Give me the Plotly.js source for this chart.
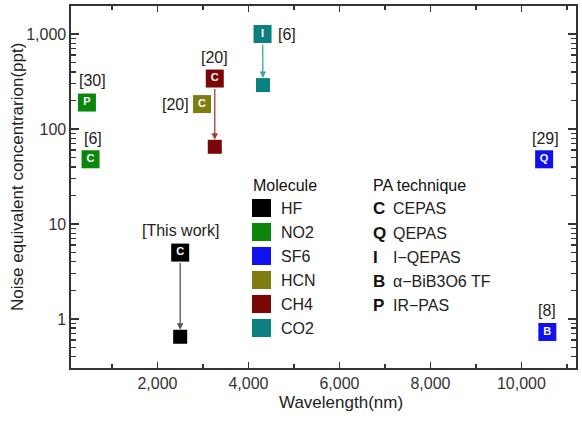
<!DOCTYPE html>
<html>
<head>
<meta charset="utf-8">
<script src="https://cdn.plot.ly/plotly-3.0.1.min.js"></script>
<style>html,body{margin:0;padding:0;background:#fff;}#chart{width:582px;height:421px;}</style>
</head>
<body>
<div id="chart"></div>
<script>
// ---- data ----
var molecules = ['HF', 'NO2', 'NO2', 'CH4', 'HCN', 'CO2', 'SF6', 'SF6'];
var techniques = ['C', 'P', 'C', 'C', 'C', 'I', 'Q', 'B'];
var wavelengths = [2500, 450, 530, 3260, 2980, 4310, 10500, 10570];
var necValues = [5, 190, 48, 340, 183, 1000, 48, 0.73];
var references = ['[This work]', '[30]', '[6]', '[20]', '[20]', '[6]', '[29]', '[8]'];

// improved (arrow end) values
var improvedMolecules = ['HF', 'CH4', 'CO2'];
var improvedFrom = [0, 3, 5];
var improvedWavelengths = [2500, 3260, 4320];
var improvedValues = [0.65, 65, 290];

var legendMolecules = ['HF', 'NO2', 'SF6', 'HCN', 'CH4', 'CO2'];
var legendLetters = ['C', 'Q', 'I', 'B', 'P'];
var legendTechniques = ['CEPAS', 'QEPAS', 'I\u2212QEPAS', '\u03b1\u2212BiB3O6 TF', 'IR\u2212PAS'];

var xTitle = 'Wavelength(nm)';
var yTitle = 'Noise equivalent concentrarion(ppt)';

// ---- styles ----
var colors = {HF: '#000000', NO2: '#0b850b', SF6: '#1010f0', HCN: '#7d7d10', CH4: '#7a0606', CO2: '#0c8080'};
var arrowColors = {HF: '#555555', CH4: '#a03c3c', CO2: '#3aa6a6'};
var FONT = 'Liberation Sans, Arial, sans-serif';

// pixel geometry of plot area
var W = 582, H = 421, L = 71, R = 6, T = 6, B = 53;
var pw = W - L - R, ph = H - T - B;
function px(x) { return (x - L) / pw; }
function py(y) { return (H - B - y) / ph; }

var traces = [];
// labelled markers
traces.push({
  type: 'scatter', mode: 'markers+text',
  x: wavelengths, y: necValues,
  text: techniques, textposition: 'middle center',
  textfont: {family: FONT, size: 11, color: '#ffffff', weight: 700},
  marker: {symbol: 'square', size: 18, color: molecules.map(function (m) { return colors[m]; }), line: {width: 0}},
  hoverinfo: 'x+y', showlegend: false, cliponaxis: false
});
// improved end markers
traces.push({
  type: 'scatter', mode: 'markers',
  x: improvedWavelengths, y: improvedValues,
  marker: {symbol: 'square', size: 14, color: improvedMolecules.map(function (m) { return colors[m]; }), line: {width: 0}},
  hoverinfo: 'x+y', showlegend: false
});

var annotations = [];
// reference labels
var refShift = [[0, 22], [6, 22], [2, 21], [0, 21], [-27, 0], [24, 0], [1, 21], [0, 21]];
for (var i = 0; i < references.length; i++) {
  annotations.push({
    x: wavelengths[i], y: Math.log10(necValues[i]), xref: 'x', yref: 'y',
    text: references[i], showarrow: false,
    xshift: refShift[i][0], yshift: refShift[i][1],
    font: {family: FONT, size: 16, color: '#222222'}
  });
}
// arrows
for (var j = 0; j < improvedMolecules.length; j++) {
  var k = improvedFrom[j];
  annotations.push({
    x: improvedWavelengths[j], y: Math.log10(improvedValues[j]), xref: 'x', yref: 'y',
    ax: wavelengths[k], ay: Math.log10(necValues[k]), axref: 'x', ayref: 'y',
    text: '', showarrow: true, arrowhead: 2, arrowsize: 1, arrowwidth: 1.3,
    arrowcolor: arrowColors[improvedMolecules[j]], standoff: 7, startstandoff: 9
  });
}

// axis titles
annotations.push({x: px(341), y: py(402), xref: 'paper', yref: 'paper', xanchor: 'center', yanchor: 'middle',
  text: xTitle, showarrow: false, font: {family: FONT, size: 17, color: '#222222'}});
annotations.push({x: px(18), y: py(177), xref: 'paper', yref: 'paper', xanchor: 'center', yanchor: 'middle',
  text: yTitle, textangle: -90, showarrow: false, font: {family: FONT, size: 17, color: '#222222'}});

var shapes = [];
// legend: molecule
annotations.push({x: px(251), y: py(186), xref: 'paper', yref: 'paper', xanchor: 'left', yanchor: 'middle',
  text: 'Molecule', showarrow: false, font: {family: FONT, size: 16, color: '#111111'}});
for (var m = 0; m < legendMolecules.length; m++) {
  var cy = 208 + m * 24;
  shapes.push({type: 'rect', xref: 'paper', yref: 'paper', x0: px(252), x1: px(271), y0: py(cy + 9), y1: py(cy - 9),
    fillcolor: colors[legendMolecules[m]], line: {width: 0}});
  annotations.push({x: px(279), y: py(cy), xref: 'paper', yref: 'paper', xanchor: 'left', yanchor: 'middle',
    text: legendMolecules[m], showarrow: false, font: {family: FONT, size: 16, color: '#222222'}});
}
// legend: technique
annotations.push({x: px(371), y: py(186), xref: 'paper', yref: 'paper', xanchor: 'left', yanchor: 'middle',
  text: 'PA technique', showarrow: false, font: {family: FONT, size: 16, color: '#111111'}});
for (var n = 0; n < legendLetters.length; n++) {
  var ty = 209 + n * 24;
  annotations.push({x: px(371), y: py(ty), xref: 'paper', yref: 'paper', xanchor: 'left', yanchor: 'middle',
    text: '<b>' + legendLetters[n] + '</b>', showarrow: false, font: {family: FONT, size: 17, color: '#111111'}});
  annotations.push({x: px(391), y: py(ty), xref: 'paper', yref: 'paper', xanchor: 'left', yanchor: 'middle',
    text: legendTechniques[n], showarrow: false, font: {family: FONT, size: 16, color: '#222222'}});
}

var axisCommon = {
  showline: true, linecolor: '#333333', linewidth: 1.6, mirror: 'ticks',
  ticks: 'inside', tickcolor: '#333333', tickwidth: 1.5,
  showgrid: false, zeroline: false,
  tickfont: {family: FONT, size: 16, color: '#333333'}
};

var layout = {
  width: W, height: H,
  margin: {l: L, r: R, t: T, b: B},
  paper_bgcolor: '#ffffff', plot_bgcolor: '#ffffff',
  showlegend: false,
  xaxis: Object.assign({}, axisCommon, {
    range: [100, 11200], tickmode: 'linear', tick0: 0, dtick: 2000, tickformat: ',', ticklen: 6,
    minor: {dtick: 1000, tick0: 0, ticks: 'inside', ticklen: 4, tickcolor: '#333333', tickwidth: 1.4, showgrid: false}
  }),
  yaxis: Object.assign({}, axisCommon, {
    type: 'log', range: [-0.516, 3.295], tickmode: 'linear', tick0: 0, dtick: 1, tickformat: ',', ticklen: 8,
    minor: {ticks: 'inside', ticklen: 5, tickcolor: '#333333', tickwidth: 1.4, showgrid: false}
  }),
  annotations: annotations,
  shapes: shapes
};

Plotly.newPlot('chart', traces, layout, {displayModeBar: false, staticPlot: true});
</script>
</body>
</html>
